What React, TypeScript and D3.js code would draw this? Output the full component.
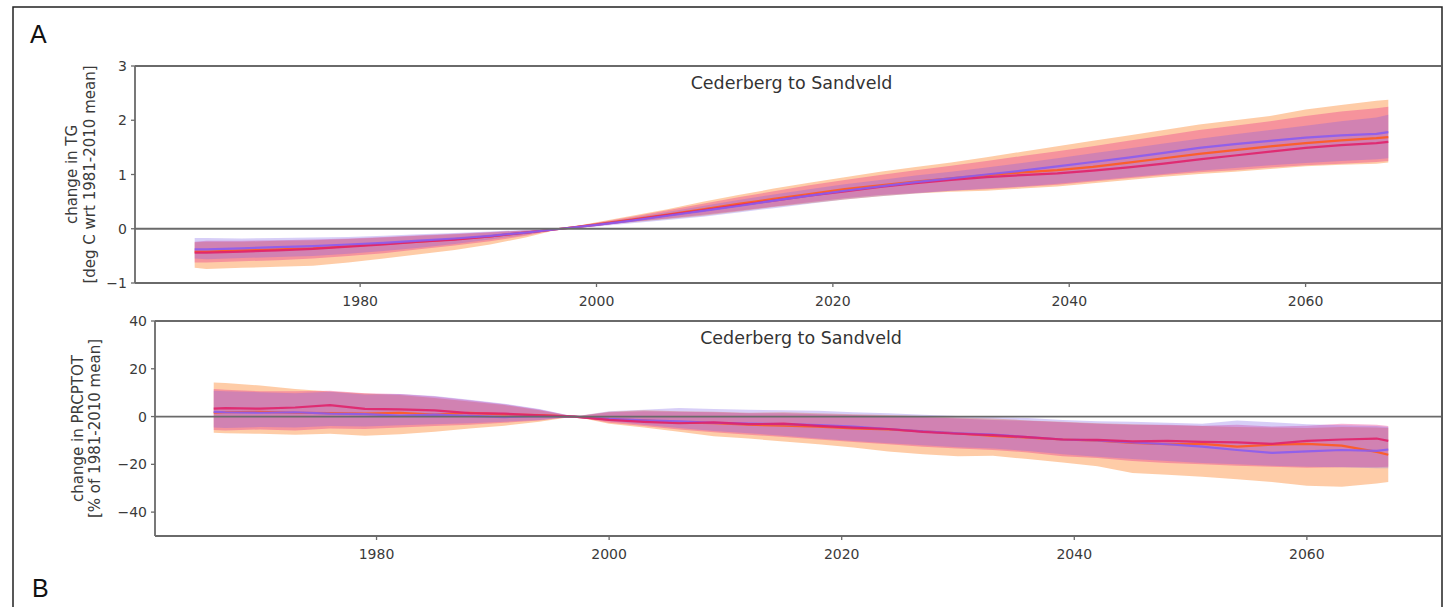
import React from "react";
import * as d3 from "d3";

// sample years (every 3 years, plus endpoints and 1997 crossing)
const years = [1966, 1967, 1970, 1973, 1976, 1979, 1982, 1985, 1988, 1991, 1994, 1997, 2000, 2003, 2006, 2009, 2012, 2015, 2018, 2021, 2024, 2027, 2030, 2033, 2036, 2039, 2042, 2045, 2048, 2051, 2054, 2057, 2060, 2063, 2066, 2067];

// Panel A: change in TG (deg C)
const tgPurple = [-0.38, -0.38, -0.36, -0.34, -0.32, -0.29, -0.26, -0.22, -0.18, -0.13, -0.07, 0, 0.07, 0.15, 0.24, 0.33, 0.42, 0.52, 0.61, 0.7, 0.78, 0.86, 0.93, 1.0, 1.07, 1.15, 1.23, 1.31, 1.4, 1.49, 1.56, 1.62, 1.68, 1.72, 1.75, 1.78];
const tgOrange = [-0.42, -0.42, -0.4, -0.38, -0.36, -0.32, -0.28, -0.24, -0.19, -0.14, -0.07, 0, 0.08, 0.17, 0.26, 0.36, 0.46, 0.55, 0.64, 0.73, 0.8, 0.87, 0.93, 0.99, 1.04, 1.08, 1.14, 1.22, 1.3, 1.38, 1.45, 1.52, 1.58, 1.63, 1.67, 1.69];
const tgRed = [-0.44, -0.44, -0.42, -0.4, -0.37, -0.33, -0.29, -0.24, -0.2, -0.14, -0.07, 0, 0.07, 0.16, 0.25, 0.34, 0.43, 0.52, 0.61, 0.69, 0.77, 0.84, 0.9, 0.95, 0.99, 1.02, 1.07, 1.13, 1.2, 1.28, 1.35, 1.42, 1.49, 1.54, 1.58, 1.6];
const tgOrangeLo = [-0.72, -0.74, -0.72, -0.7, -0.68, -0.62, -0.55, -0.47, -0.39, -0.29, -0.16, 0, 0.06, 0.12, 0.18, 0.24, 0.32, 0.4, 0.47, 0.54, 0.6, 0.65, 0.68, 0.7, 0.74, 0.78, 0.84, 0.9, 0.96, 1.01, 1.05, 1.1, 1.15, 1.18, 1.2, 1.22];
const tgOrangeHi = [-0.25, -0.24, -0.24, -0.22, -0.21, -0.19, -0.16, -0.13, -0.1, -0.07, -0.03, 0, 0.12, 0.24, 0.36, 0.5, 0.62, 0.74, 0.85, 0.95, 1.05, 1.14, 1.22, 1.32, 1.42, 1.52, 1.62, 1.72, 1.82, 1.92, 2.0, 2.08, 2.2, 2.28, 2.36, 2.38];
const tgRedLo = [-0.62, -0.62, -0.6, -0.58, -0.55, -0.5, -0.45, -0.38, -0.31, -0.23, -0.13, 0, 0.06, 0.13, 0.19, 0.26, 0.33, 0.41, 0.49, 0.56, 0.62, 0.66, 0.7, 0.73, 0.77, 0.81, 0.87, 0.93, 0.99, 1.04, 1.08, 1.13, 1.17, 1.2, 1.23, 1.25];
const tgRedHi = [-0.24, -0.22, -0.22, -0.21, -0.2, -0.18, -0.15, -0.12, -0.09, -0.06, -0.03, 0, 0.11, 0.22, 0.34, 0.46, 0.58, 0.69, 0.8, 0.9, 0.99, 1.08, 1.16, 1.25, 1.34, 1.43, 1.52, 1.62, 1.72, 1.82, 1.9, 1.98, 2.08, 2.16, 2.22, 2.25];
const tgPurpleLo = [-0.55, -0.56, -0.54, -0.52, -0.5, -0.46, -0.41, -0.35, -0.28, -0.2, -0.11, 0, 0.04, 0.1, 0.16, 0.22, 0.3, 0.38, 0.46, 0.54, 0.6, 0.65, 0.7, 0.74, 0.78, 0.83, 0.89, 0.95, 1.01, 1.07, 1.12, 1.17, 1.21, 1.25, 1.28, 1.3];
const tgPurpleHi = [-0.17, -0.17, -0.18, -0.17, -0.16, -0.15, -0.13, -0.1, -0.08, -0.05, -0.02, 0, 0.1, 0.2, 0.31, 0.42, 0.53, 0.63, 0.73, 0.82, 0.9, 0.98, 1.05, 1.13, 1.21, 1.3, 1.39, 1.48, 1.57, 1.66, 1.74, 1.82, 1.9, 1.98, 2.05, 2.1];

// Panel B: change in PRCPTOT (%)
const prRed = [3.3, 3.5, 3.3, 3.8, 4.8, 3.2, 3.0, 2.6, 1.4, 1.2, 0.5, 0, -1.4, -2.2, -2.8, -2.4, -3.2, -3.0, -3.9, -4.6, -5.2, -6.4, -7.2, -7.8, -8.6, -9.6, -9.8, -10.4, -10.2, -10.6, -10.8, -11.4, -10.2, -9.6, -9.2, -10.2];
const prOrange = [1.6, 1.8, 2.0, 1.6, 1.4, 1.2, 1.6, 0.8, 1.5, 0.9, 0.6, 0, -1.2, -1.6, -2.4, -2.8, -3.4, -3.8, -4.2, -5.0, -5.4, -6.2, -7.0, -8.1, -8.8, -9.6, -10.1, -11.0, -11.6, -11.4, -12.6, -11.8, -11.4, -12.2, -14.8, -16.0];
const prPurple = [2.0, 1.8, 1.6, 1.8, 1.2, 1.0, 0.4, 0.8, 0.3, -0.2, 0.2, 0, -1.0, -1.6, -2.0, -2.6, -3.0, -3.2, -3.6, -4.2, -5.2, -6.2, -7.0, -7.6, -8.6, -9.6, -10.0, -10.8, -11.6, -12.6, -14.0, -15.2, -14.6, -14.0, -14.4, -13.8];
const prOrangeHi = [14.3, 14.0, 13.0, 11.5, 10.5, 9.6, 9.0, 7.8, 6.3, 4.8, 2.6, 0, 2.0, 2.6, 2.2, 2.0, 1.6, 1.8, 1.4, 1.0, 0.6, 0.2, -0.4, -0.8, -1.6, -2.2, -2.8, -3.2, -3.6, -4.0, -4.4, -4.6, -4.8, -4.4, -4.6, -4.8];
const prOrangeLo = [-6.8, -7.0, -7.2, -7.6, -7.2, -8.0, -7.4, -6.4, -5.0, -3.8, -2.2, 0, -3.0, -4.6, -6.4, -8.2, -9.2, -10.4, -11.6, -13.0, -14.6, -15.8, -16.6, -16.4, -17.8, -19.2, -20.8, -23.6, -24.4, -25.2, -26.2, -27.4, -29.0, -29.4, -28.0, -27.4];
const prRedHi = [11.5, 11.2, 10.6, 10.6, 10.8, 9.8, 9.4, 8.4, 6.8, 5.2, 3.0, 0, 1.8, 2.2, 2.0, 1.8, 1.4, 1.4, 1.0, 0.6, 0.2, -0.2, -0.8, -1.4, -1.8, -2.4, -3.0, -3.4, -3.4, -3.8, -3.4, -4.2, -3.8, -3.0, -3.4, -4.0];
const prRedLo = [-5.6, -5.8, -5.4, -5.8, -5.0, -5.2, -4.6, -4.0, -3.4, -2.6, -1.6, 0, -2.6, -4.0, -5.4, -6.6, -7.6, -8.6, -9.6, -10.6, -11.6, -12.6, -13.4, -14.0, -15.0, -16.6, -17.4, -18.6, -19.4, -20.0, -20.6, -21.0, -21.4, -21.2, -21.2, -21.0];
const prPurpleHi = [10.8, 10.6, 10.2, 9.8, 10.4, 9.2, 9.4, 8.6, 7.0, 5.4, 3.2, 0, 2.2, 2.8, 3.6, 3.2, 2.8, 2.6, 2.4, 1.8, 1.4, 0.8, 0.2, -0.2, -0.6, -1.4, -2.0, -2.2, -2.6, -3.0, -1.6, -2.4, -3.2, -3.6, -4.0, -4.4];
const prPurpleLo = [-4.6, -4.8, -4.4, -4.6, -4.0, -4.2, -3.6, -3.2, -2.8, -2.2, -1.4, 0, -2.0, -3.4, -4.8, -6.0, -7.0, -8.0, -9.2, -10.2, -11.2, -12.0, -12.8, -13.4, -14.4, -15.8, -16.8, -17.8, -18.6, -19.4, -20.0, -20.6, -21.0, -21.2, -21.6, -21.6];

const xTicks = [1980, 2000, 2020, 2040, 2060];
const tgTicks = [-1, 0, 1, 2, 3];
const prTicks = [-40, -20, 0, 20, 40];
const title = "Cederberg to Sandveld";

const COLORS = {
  orangeFill: "#fd8d3c",
  redFill: "#e7298a",
  purpleFill: "#7b5ce6",
  orangeLine: "#ff5a1e",
  redLine: "#e0226a",
  purpleLine: "#8a5cf0",
};

const FONT = "'DejaVu Sans', sans-serif";
const AXIS = "#6a6a6a";
const TXT = "#3a3a3a";

type PanelProps = {
  left: number;
  right: number;
  top: number;
  bottom: number;
  yDomain: [number, number];
  yTicks: number[];
  labels: [string, string];
  labelX: [number, number];
  bands: { lo: number[]; hi: number[]; color: string; opacity: number }[];
  lines: { v: number[]; color: string }[];
};

function Panel(p: PanelProps) {
  const x = d3.scaleLinear().domain([1960.95, 2072.05]).range([p.left, p.right]);
  const y = d3.scaleLinear().domain(p.yDomain).range([p.bottom, p.top]);
  const midY = (p.top + p.bottom) / 2;
  return (
    <g>
      {p.bands.map((b, bi) => {
        const a = d3
          .area<number>()
          .x((_, i) => x(years[i]))
          .y0((_, i) => y(b.lo[i]))
          .y1((_, i) => y(b.hi[i]));
        return <path key={bi} d={a(years) || ""} fill={b.color} fillOpacity={b.opacity} stroke="none" />;
      })}
      {p.lines.map((l, li) => {
        const ln = d3
          .line<number>()
          .x((_, i) => x(years[i]))
          .y((d) => y(d));
        return <path key={li} d={ln(l.v) || ""} fill="none" stroke={l.color} strokeWidth={2.2} strokeOpacity={0.9} />;
      })}
      {/* zero line */}
      <line x1={p.left} x2={p.right} y1={y(0)} y2={y(0)} stroke={AXIS} strokeWidth={1.8} />
      {/* spines */}
      <line x1={p.left} x2={p.right} y1={p.top} y2={p.top} stroke={AXIS} strokeWidth={1.8} />
      <line x1={p.left} x2={p.right} y1={p.bottom} y2={p.bottom} stroke={AXIS} strokeWidth={1.8} />
      <line x1={p.left} x2={p.left} y1={p.top} y2={p.bottom} stroke={AXIS} strokeWidth={1.8} />
      {p.yTicks.map((t) => (
        <g key={t}>
          <line x1={p.left - 4} x2={p.left} y1={y(t)} y2={y(t)} stroke={AXIS} strokeWidth={1.3} />
          <text x={p.left - 8} y={y(t)} dy="0.36em" textAnchor="end" fontFamily={FONT} fontSize={14} fill={TXT}>
            {t < 0 ? "\u2212" + Math.abs(t) : String(t)}
          </text>
        </g>
      ))}
      {xTicks.map((t) => (
        <g key={t}>
          <line x1={x(t)} x2={x(t)} y1={p.bottom} y2={p.bottom + 4} stroke={AXIS} strokeWidth={1.3} />
          <text x={x(t)} y={p.bottom + 23} textAnchor="middle" fontFamily={FONT} fontSize={14} fill={TXT}>
            {t}
          </text>
        </g>
      ))}
      <text x={(p.left + p.right) / 2} y={p.top + 23} textAnchor="middle" fontFamily={FONT} fontSize={17.5} fill="#333">
        {title}
      </text>
      {p.labels.map((s, i) => (
        <text
          key={i}
          transform={`translate(${p.labelX[i]},${midY}) rotate(-90)`}
          textAnchor="middle"
          fontFamily={FONT}
          fontSize={15}
          fill={TXT}
        >
          {s}
        </text>
      ))}
    </g>
  );
}

export default function App() {
  return (
    <svg
      width={1450}
      height={607}
      style={{ position: "absolute", left: 0, top: 0, background: "#fff" }}
      fontFamily={FONT}
    >
      <defs>
        <clipPath id="frameClip">
          <rect x={13} y={7} width={1428} height={620} />
        </clipPath>
      </defs>
      <rect x={0} y={0} width={1450} height={607} fill="#fff" />
      <g clipPath="url(#frameClip)">
        <Panel
          left={135}
          right={1448}
          top={66}
          bottom={283}
          yDomain={[-1, 3]}
          yTicks={tgTicks}
          labels={["change in TG", "[deg C wrt 1981-2010 mean]"]}
          labelX={[77, 95]}
          bands={[
            { lo: tgOrangeLo, hi: tgOrangeHi, color: COLORS.orangeFill, opacity: 0.45 },
            { lo: tgRedLo, hi: tgRedHi, color: COLORS.redFill, opacity: 0.35 },
            { lo: tgPurpleLo, hi: tgPurpleHi, color: COLORS.purpleFill, opacity: 0.3 },
          ]}
          lines={[
            { v: tgOrange, color: COLORS.orangeLine },
            { v: tgRed, color: COLORS.redLine },
            { v: tgPurple, color: COLORS.purpleLine },
          ]}
        />
        <Panel
          left={155}
          right={1447}
          top={321}
          bottom={536}
          yDomain={[-50, 40]}
          yTicks={prTicks}
          labels={["change in PRCPTOT", "[% of 1981-2010 mean]"]}
          labelX={[83, 100]}
          bands={[
            { lo: prOrangeLo, hi: prOrangeHi, color: COLORS.orangeFill, opacity: 0.45 },
            { lo: prRedLo, hi: prRedHi, color: COLORS.redFill, opacity: 0.35 },
            { lo: prPurpleLo, hi: prPurpleHi, color: COLORS.purpleFill, opacity: 0.3 },
          ]}
          lines={[
            { v: prOrange, color: COLORS.orangeLine },
            { v: prPurple, color: COLORS.purpleLine },
            { v: prRed, color: COLORS.redLine },
          ]}
        />
      </g>
      <text x={30} y={43} fontFamily="'Liberation Sans', Arial, sans-serif" fontSize={25} fill="#111">
        A
      </text>
      <text x={32} y={597} fontFamily="'Liberation Sans', Arial, sans-serif" fontSize={25} fill="#111">
        B
      </text>
      <rect x={13} y={7} width={1429} height={640} fill="none" stroke="#222" strokeWidth={1.5} />
    </svg>
  );
}
